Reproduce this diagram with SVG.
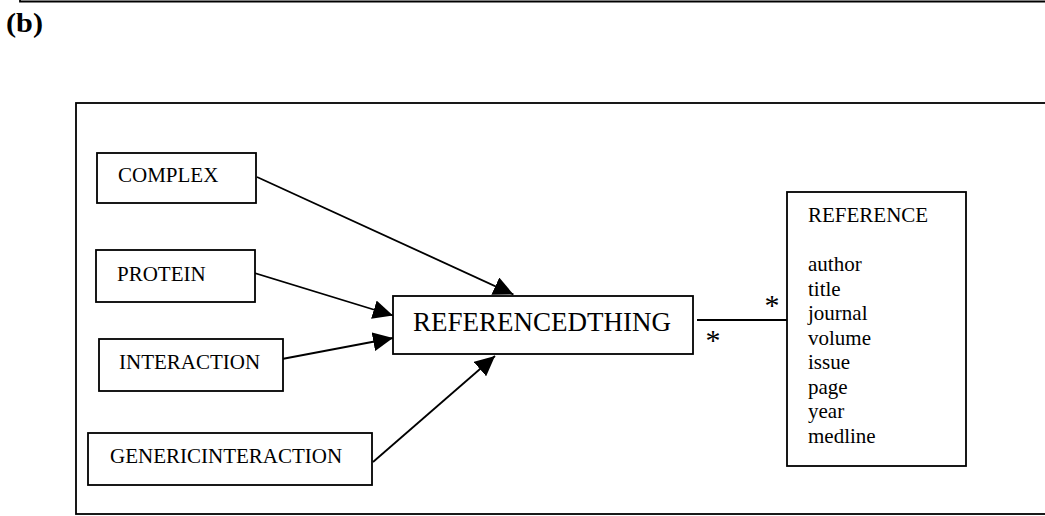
<svg xmlns="http://www.w3.org/2000/svg" width="1045" height="516" viewBox="0 0 1045 516">
  <style>
    .box { fill: #ffffff; stroke: #000000; stroke-width: 1.8; }
    .frame { fill: none; stroke: #000000; stroke-width: 1.8; }
    .lbl { font-family: "Liberation Serif", "Times New Roman", serif; font-size: 21px; fill: #000000; }
    .big { font-family: "Liberation Serif", "Times New Roman", serif; font-size: 27px; fill: #000000; }
    .star { font-family: "Liberation Serif", "Times New Roman", serif; font-size: 30px; fill: #000000; text-anchor: middle; }
    .title { font-family: "Liberation Serif", "Times New Roman", serif; font-size: 27px; font-weight: bold; fill: #000000; }
    .conn { fill: none; stroke: #000000; stroke-width: 1.8; }
  </style>
  <defs>
    <marker id="arrow" markerUnits="userSpaceOnUse" markerWidth="20" markerHeight="19" refX="20" refY="9.5" orient="auto" viewBox="0 0 20 19">
      <path d="M0,0 L20,9.5 L0,19 Z" fill="#000000"/>
    </marker>
  </defs>
  <rect width="1045" height="516" fill="#ffffff"/>

  <!-- remnant of the panel above -->
  <path class="frame" d="M20,-5 V1.5 H1050"/>
  <text class="title" x="6" y="32" textLength="37" lengthAdjust="spacingAndGlyphs">(b)</text>

  <!-- outer frame -->
  <rect class="frame" x="76" y="103" width="990" height="411"/>

  <g id="connectors">
    <line class="conn" x1="257" y1="177" x2="513.5" y2="294.5" marker-end="url(#arrow)"/>
    <line class="conn" x1="251" y1="272" x2="393" y2="315.5" marker-end="url(#arrow)"/>
    <line class="conn" x1="282" y1="359" x2="393" y2="338" marker-end="url(#arrow)"/>
    <line class="conn" x1="373" y1="462" x2="495" y2="356" marker-end="url(#arrow)"/>
    <line class="conn" x1="697" y1="320" x2="792" y2="320"/>
    <text class="star" x="772" y="315">*</text>
    <text class="star" x="713" y="350">*</text>
  </g>

  <g id="node-complex">
    <rect class="box" x="97" y="153" width="159" height="50"/>
    <text class="lbl" x="118" y="182">COMPLEX</text>
  </g>
  <g id="node-protein">
    <rect class="box" x="96" y="250" width="159" height="52"/>
    <text class="lbl" x="117" y="281">PROTEIN</text>
  </g>
  <g id="node-interaction">
    <rect class="box" x="99" y="339" width="184" height="52"/>
    <text class="lbl" x="119" y="369">INTERACTION</text>
  </g>
  <g id="node-genericinteraction">
    <rect class="box" x="88" y="433" width="284" height="52"/>
    <text class="lbl" x="110" y="463">GENERICINTERACTION</text>
  </g>
  <g id="node-referencedthing">
    <rect class="box" x="393" y="296" width="300" height="58"/>
    <text class="big" x="413" y="331">REFERENCEDTHING</text>
  </g>
  <g id="node-reference">
    <rect class="box" x="787" y="192" width="179" height="274"/>
    <text class="lbl" x="808" y="222">REFERENCE</text>
    <text class="lbl" x="808" y="271">author</text>
    <text class="lbl" x="808" y="295.5">title</text>
    <text class="lbl" x="808" y="320">journal</text>
    <text class="lbl" x="808" y="344.5">volume</text>
    <text class="lbl" x="808" y="369">issue</text>
    <text class="lbl" x="808" y="393.5">page</text>
    <text class="lbl" x="808" y="418">year</text>
    <text class="lbl" x="808" y="442.5">medline</text>
  </g>
</svg>
